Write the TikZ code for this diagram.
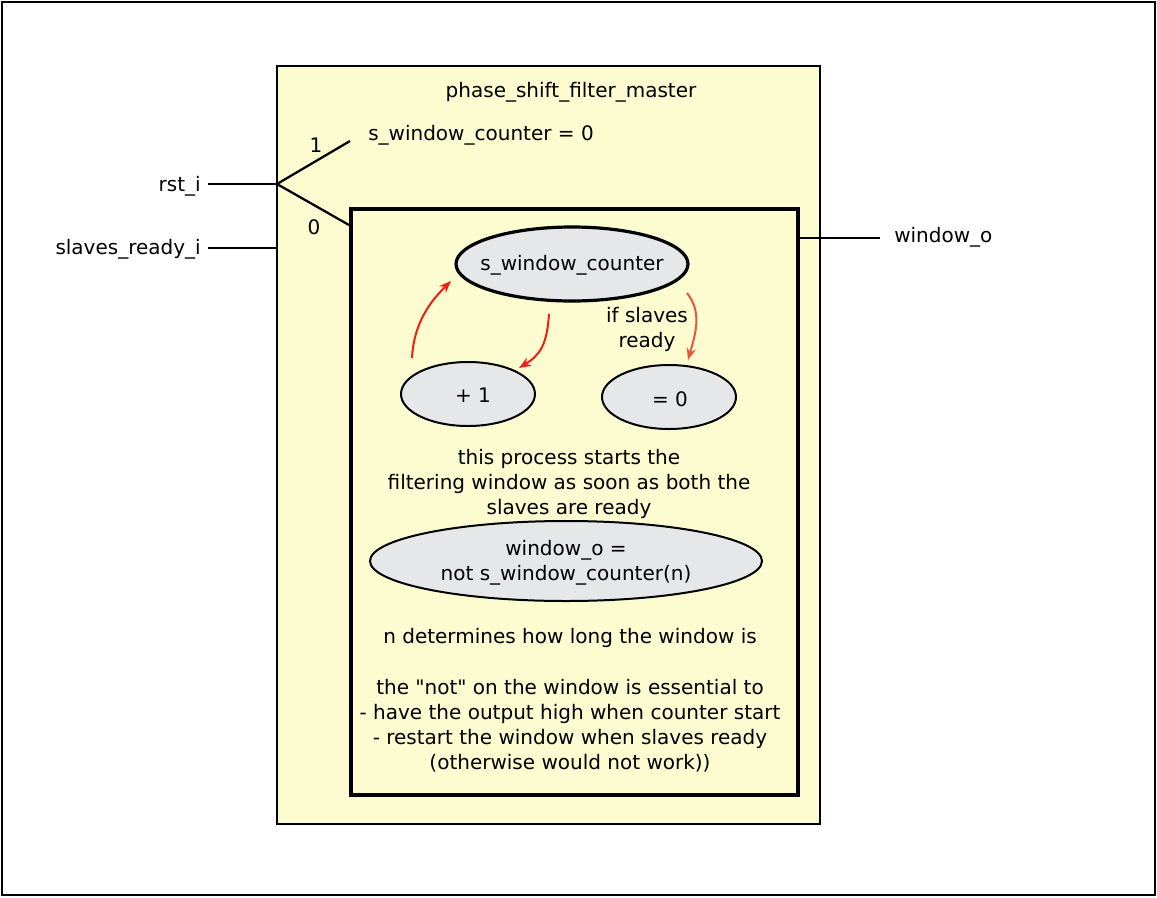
\documentclass[tikz,border=0pt]{standalone}
\usepackage{fontspec}
\setmainfont{DejaVu Sans}
\usetikzlibrary{arrows.meta,shapes.geometric}
\definecolor{boxyellow}{RGB}{252,252,208}
\definecolor{ellgray}{RGB}{230,231,232}
\definecolor{arrred}{RGB}{240,30,20}
\definecolor{arrred2}{RGB}{235,85,60}
\begin{document}
\begin{tikzpicture}[x=0.75pt,y=-0.75pt,
  txt/.style={font=\fontsize{15}{18.75}\selectfont, inner sep=0pt, align=center},
  ell/.style={ellipse, draw, fill=ellgray, line width=1.5pt, inner sep=0pt},
  wire/.style={line width=1.7pt},
  redarr/.style={draw=arrred, line width=1.5pt, -{Stealth[length=9pt,width=7pt]}}
]
\useasboundingbox (0,0) rectangle (1157,897);
\node[draw, line width=1.5pt, minimum width=1153*0.75pt, minimum height=893*0.75pt, inner sep=0pt] (frame) at (578.5,448.5) {};
% outer yellow box
\node[draw, fill=boxyellow, line width=0.8pt, minimum width=543*0.75pt, minimum height=758*0.75pt, inner sep=0pt] (outer) at (548.5,445) {};
% inner process box
\node[draw, line width=3.2pt, minimum width=447*0.75pt, minimum height=586*0.75pt, inner sep=0pt] (inner) at (574.5,502) {};
\node[txt] (title) at (571,92) {phase\_shift\_filter\_master};
% rst mux
\coordinate (mux) at (277,184);
\coordinate (m1) at (350,141);
\coordinate (m0) at (349,225);
\node[txt, anchor=east] (rst) at (201,186) {rst\_i};
\coordinate (rstw) at (208,184);
\draw[wire] (rstw) -- (mux);
\draw[wire] (mux) -- (m1);
\draw[wire] (mux) -- (m0);
\node[txt] (one) at (316,145) {1};
\node[txt] (zero) at (314,227) {0};
\node[txt, anchor=west] (swc0) at (368,135) {s\_window\_counter = 0};
\node[txt, anchor=east] (slv) at (201,249) {slaves\_ready\_i};
\coordinate (slvw) at (208,248);
\coordinate (slvin) at (277,248);
\draw[wire] (slvw) -- (slvin);
\node[txt, anchor=west] (wo) at (894,237) {window\_o};
\coordinate (woin) at (798,238);
\coordinate (woout) at (880,238);
\draw[wire] (woin) -- (woout);
% ellipses
\node[ell, line width=2.4pt, minimum width=232*0.75pt, minimum height=74*0.75pt] (swc) at (572,264) {};
\node[txt] (swctxt) at (572,265) {s\_window\_counter};
\node[ell, minimum width=134*0.75pt, minimum height=64*0.75pt] (plus) at (468,394) {};
\node[txt] (plustxt) at (473,395) {+ 1};
\node[ell, minimum width=134*0.75pt, minimum height=64*0.75pt] (eq) at (669,397) {};
\node[txt] (eqtxt) at (670,399) {= 0};
\node[txt] (ifs) at (647,329) {if slaves\\ready};
% arrows
\coordinate (a1s) at (412,358);
\coordinate (a1e) at (451,281);
\coordinate (a2s) at (549,314);
\coordinate (a2e) at (519,368);
\coordinate (a3s) at (687,293);
\coordinate (a3e) at (688,360);
\draw[redarr] (a1s) .. controls (414,318) and (436,296) .. (a1e);
\draw[redarr] (a2s) .. controls (547,345) and (540,355) .. (a2e);
\draw[redarr, draw=arrred2] (a3s) .. controls (702,312) and (696,332) .. (a3e);
\node[txt] (desc) at (569,484) {this process starts the\\filtering window as soon as both the\\slaves are ready};
\node[ell, minimum width=392*0.75pt, minimum height=80*0.75pt] (win) at (566,561) {};
\node[txt] (wintxt) at (566,563) {window\_o =\\not s\_window\_counter(n)};
\node[txt] (ndet) at (570,638) {n determines how long the window is};
\node[txt] (note) at (570,725.5) {the \textquotedbl not\textquotedbl\ on the window is essential to\\- have the output high when counter start\\- restart the window when slaves ready\\(otherwise would not work))};
\end{tikzpicture}
\end{document}
